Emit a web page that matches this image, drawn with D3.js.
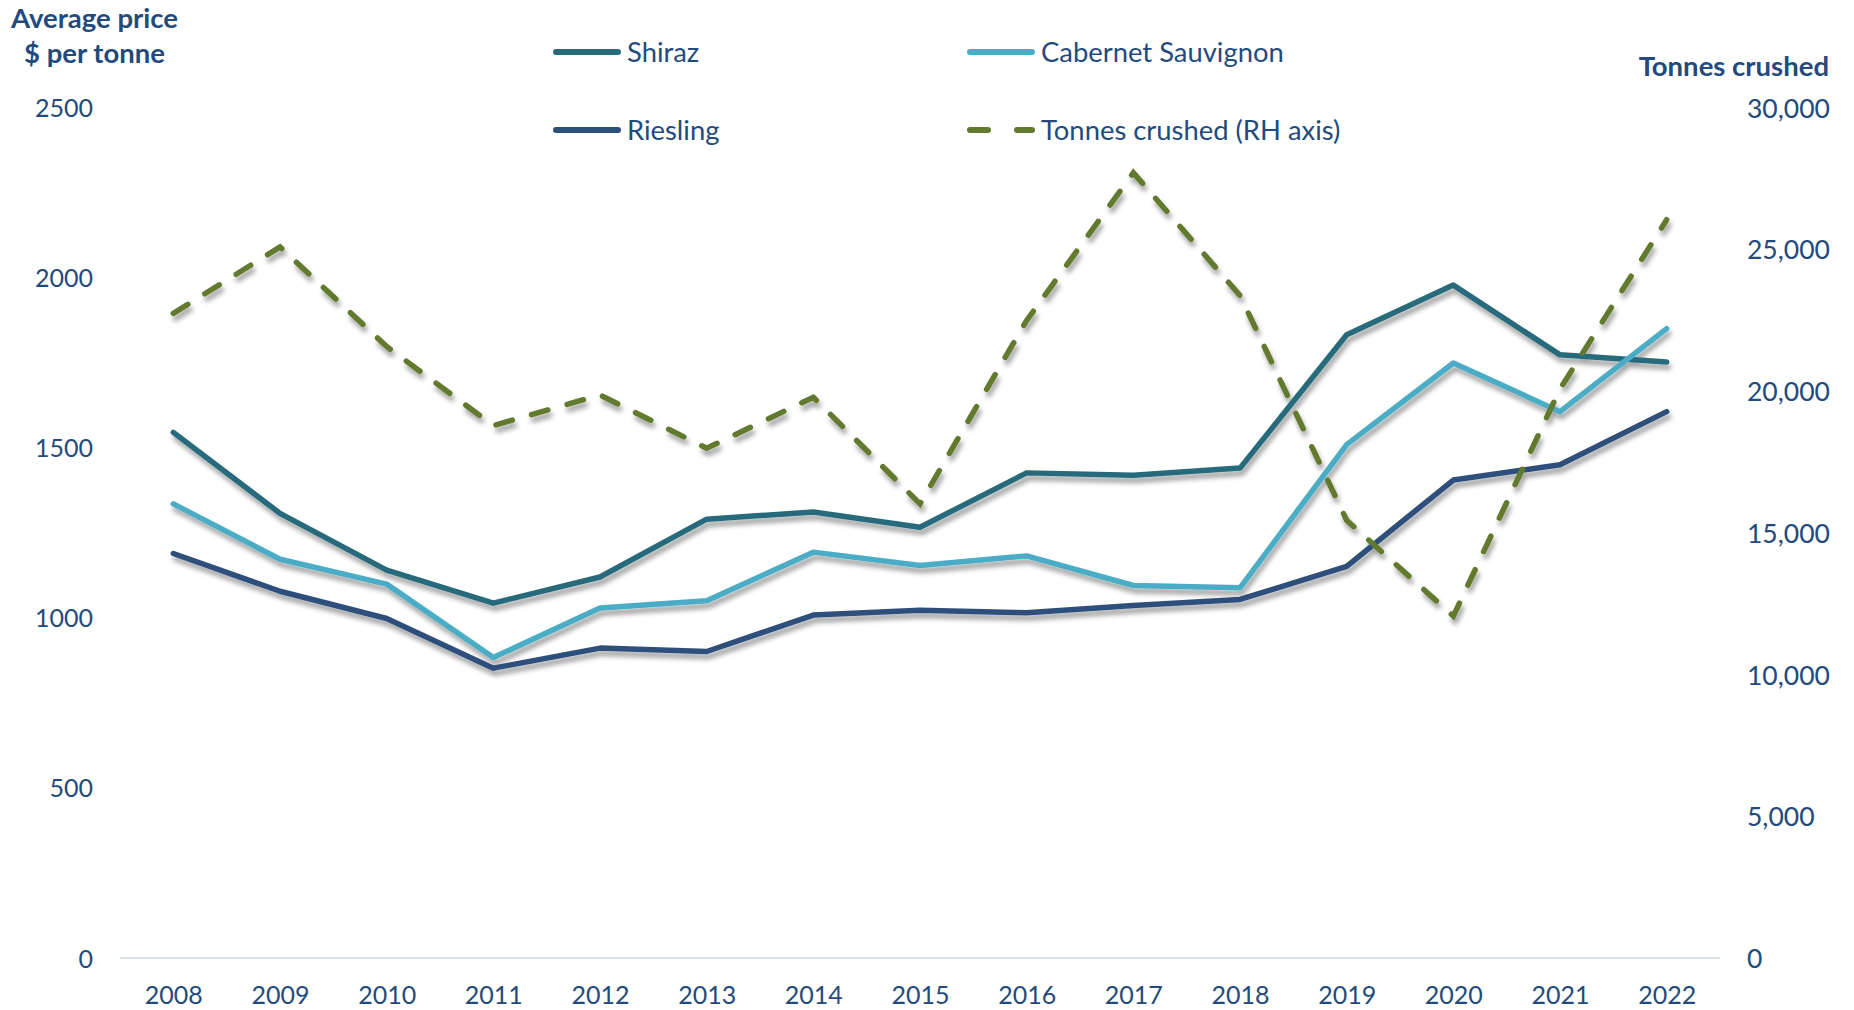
<!DOCTYPE html>
<html>
<head>
<meta charset="utf-8">
<script src="https://cdn.jsdelivr.net/npm/d3@7"></script>
<style>
  html, body { margin: 0; padding: 0; background: #fff; }
  svg { display: block; }
  text { font-family: Lato, "Open Sans", sans-serif; fill: #234a7c; }
</style>
</head>
<body>
<svg id="chart" width="1854" height="1010"></svg>
<script>
const years = ["2008","2009","2010","2011","2012","2013","2014","2015","2016","2017","2018","2019","2020","2021","2022"];
const shiraz   = [1545, 1307, 1140, 1043, 1120, 1290, 1311, 1266, 1426, 1419, 1440, 1832, 1978, 1773, 1752];
const cabernet = [1335, 1172, 1099, 883, 1029, 1050, 1193, 1154, 1182, 1095, 1088, 1509, 1749, 1606, 1850];
const riesling = [1189, 1078, 998, 852, 911, 901, 1008, 1022, 1015, 1036, 1054, 1151, 1405, 1450, 1606];
const tonnes   = [22740, 25080, 21570, 18780, 19860, 17980, 19780, 16020, 22490, 27700, 23370, 15440, 12060, 20070, 26040];
const leftTicks  = [0, 500, 1000, 1500, 2000, 2500];
const rightTicks = [0, 5000, 10000, 15000, 20000, 25000, 30000];
const seriesNames = ["Shiraz", "Cabernet Sauvignon", "Riesling", "Tonnes crushed (RH axis)"];

const svg = d3.select("#chart");
const colors = { shiraz: "#276b7b", cab: "#4bacc6", ries: "#2d4f7c", tonnes: "#627a2e" };

const defs = svg.append("defs");
const f = defs.append("filter").attr("id", "shadow").attr("x", "-10%").attr("y", "-10%").attr("width", "120%").attr("height", "130%");
f.append("feDropShadow").attr("dx", 2).attr("dy", 5).attr("stdDeviation", 2.4)
  .attr("flood-color", "#000").attr("flood-opacity", 0.38);

const x = d3.scalePoint().domain(years).range([120, 1720]).padding(0.5);
const yL = d3.scaleLinear().domain([0, 2500]).range([958, 107.5]);
const yR = d3.scaleLinear().domain([0, 30000]).range([958, 107.5]);

// baseline
svg.append("line").attr("x1", x.range()[0]).attr("x2", x.range()[1])
  .attr("y1", yL(0)).attr("y2", yL(0)).attr("stroke", "#d6e3f0").attr("stroke-width", 2);

// axes
const gL = svg.append("g").attr("transform", "translate(93,0)")
  .call(d3.axisLeft(yL).tickValues(leftTicks).tickSize(0).tickPadding(0).tickFormat(d3.format("d")));
const gR = svg.append("g").attr("transform", "translate(1747,0)")
  .call(d3.axisRight(yR).tickValues(rightTicks).tickSize(0).tickPadding(0).tickFormat(d3.format(",")));
const gX = svg.append("g").attr("transform", `translate(0,${yL(0)})`)
  .call(d3.axisBottom(x).tickSize(0).tickPadding(0));
[gL, gR, gX].forEach(g => {
  g.select(".domain").remove();
  g.selectAll("text").attr("font-family", "Lato, sans-serif").attr("font-size", 25).attr("fill", "#234a7c");
});
gR.selectAll("text").attr("font-size", 26.5);
gL.selectAll("text").attr("dy", "0.36em");
gR.selectAll("text").attr("dy", "0.36em");
gX.selectAll("text").attr("y", 37).attr("dy", "0.36em");

// lines
const lineL = d3.line().x((d, i) => x(years[i])).y(d => yL(d));
const lineR = d3.line().x((d, i) => x(years[i])).y(d => yR(d));
const plot = svg.append("g").attr("filter", "url(#shadow)");
[[shiraz, colors.shiraz], [cabernet, colors.cab], [riesling, colors.ries]].forEach(([data, c]) => {
  plot.append("path").datum(data).attr("d", lineL).attr("fill", "none")
    .attr("stroke", c).attr("stroke-width", 5.5).attr("stroke-linejoin", "round").attr("stroke-linecap", "round");
});
plot.append("path").datum(tonnes).attr("d", lineR).attr("fill", "none")
  .attr("stroke", colors.tonnes).attr("stroke-width", 5.5).attr("stroke-linecap", "round")
  .attr("stroke-dasharray", "17 20");

// titles
svg.append("text").attr("x", 11).attr("y", 18).attr("dy", "0.36em").attr("font-weight", 700).attr("font-size", 27.5).text("Average price");
svg.append("text").attr("x", 24).attr("y", 53).attr("dy", "0.36em").attr("font-weight", 700).attr("font-size", 27.5).text("$ per tonne");
svg.append("text").attr("x", 1829).attr("y", 66).attr("dy", "0.36em").attr("text-anchor", "end").attr("font-weight", 700).attr("font-size", 27.5).text("Tonnes crushed");

// legend
const legend = [
  { name: seriesNames[0], c: colors.shiraz, x: 553, y: 52, dash: null },
  { name: seriesNames[1], c: colors.cab, x: 967, y: 52, dash: null },
  { name: seriesNames[2], c: colors.ries, x: 553, y: 130, dash: null },
  { name: seriesNames[3], c: colors.tonnes, x: 967, y: 130, dash: "18 29" }
];
legend.forEach(l => {
  svg.append("line").attr("x1", l.x + 3).attr("x2", l.x + 65).attr("y1", l.y).attr("y2", l.y)
    .attr("stroke", l.c).attr("stroke-width", 6).attr("stroke-linecap", "round")
    .attr("stroke-dasharray", l.dash);
  svg.append("text").attr("x", l.x + 74).attr("y", l.y).attr("dy", "0.36em").attr("font-size", 27.4).text(l.name);
});
</script>
</body>
</html>
